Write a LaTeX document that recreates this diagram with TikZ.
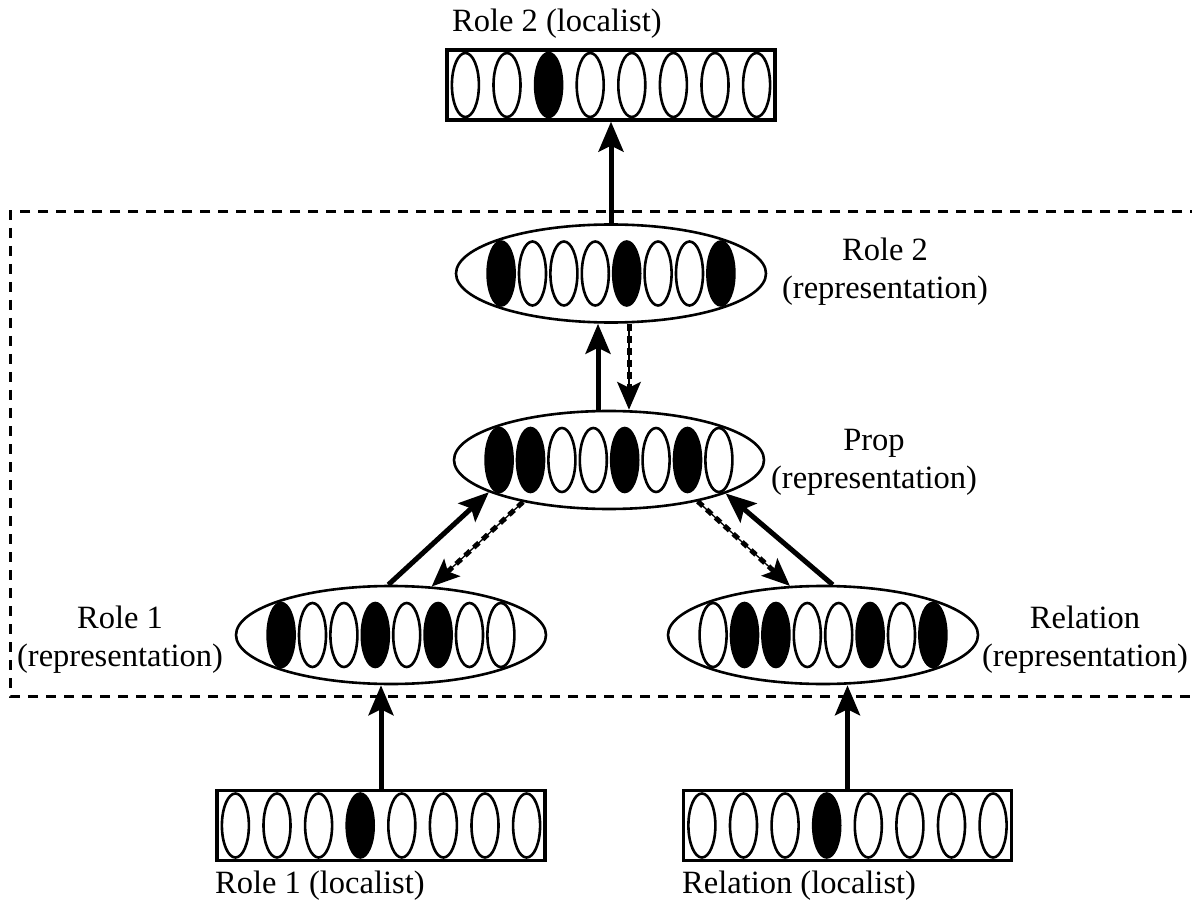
\documentclass[tikz,border=0pt]{standalone}
\usepackage{fontspec}
\setmainfont{Liberation Serif}
\usetikzlibrary{shapes.geometric,arrows.meta,calc}

\begin{document}
\begin{tikzpicture}[x=1pt,y=-1pt,
  lbl/.style={font=\fontsize{32.5}{38}\selectfont, inner sep=0pt},
  grp/.style={lbl, align=center},
  unit/.style={ellipse, draw, line width=2.6pt, minimum width=27pt, minimum height=64pt, inner sep=0pt},
  repr/.style={ellipse, draw, line width=2.6pt, minimum width=310pt, minimum height=98pt, inner sep=0pt},
  localbox/.style={rectangle, draw, line width=3.3pt, minimum width=328pt, minimum height=70pt, inner sep=0pt},
  feed/.style={line width=5pt, -{Stealth[length=30pt,width=25pt,inset=6pt]}},
  back/.style={line width=1.3pt, -{Stealth[length=28pt,width=24pt,inset=6pt]},
    postaction={draw, line width=5pt, dash pattern=on 7pt off 5pt, -, shorten >=14pt}},
  frame/.style={line width=3pt, dash pattern=on 10pt off 8pt}]

\useasboundingbox (0,0) rectangle (1192,901);

% module boundary
\draw[frame] (1200,212) -- (10,212) -- (10,696) -- (1200,696);

% layers
\node[localbox] (r2loc) at (611,85) {};
\node[repr] (r2rep) at (611,273.5) {};
\node[repr] (prop) at (609,460) {};
\node[repr] (r1rep) at (391,635) {};
\node[repr] (relrep) at (823,635) {};
\node[localbox] (r1loc) at (381,825.5) {};
\node[localbox] (relloc) at (847.5,825.5) {};

% localist units
\foreach \c [count=\i] in {white,white,black,white,white,white,white,white}
  \node[unit, fill=\c] (r2loc-\i) at ([xshift={(\i-4.5)*41.6}]r2loc.center) {};
\foreach \c [count=\i] in {white,white,white,black,white,white,white,white}
  \node[unit, fill=\c] (r1loc-\i) at ([xshift={(\i-4.5)*41.6}]r1loc.center) {};
\foreach \c [count=\i] in {white,white,white,black,white,white,white,white}
  \node[unit, fill=\c] (relloc-\i) at ([xshift={(\i-4.5)*41.6}]relloc.center) {};

% distributed units
\foreach \c [count=\i] in {black,white,white,white,black,white,white,black}
  \node[unit, fill=\c] (r2rep-\i) at ([xshift={(\i-4.5)*31.4}]r2rep.center) {};
\foreach \c [count=\i] in {black,black,white,white,black,white,black,white}
  \node[unit, fill=\c] (prop-\i) at ([xshift={(\i-4.5)*31.4}]prop.center) {};
\foreach \c [count=\i] in {black,white,white,black,white,black,white,white}
  \node[unit, fill=\c] (r1rep-\i) at ([xshift={(\i-4.5)*31.4}]r1rep.center) {};
\foreach \c [count=\i] in {white,black,black,white,white,black,white,black}
  \node[unit, fill=\c] (relrep-\i) at ([xshift={(\i-4.5)*31.4}]relrep.center) {};

% labels
\node[lbl, anchor=base west] (r2loctxt) at (452,32) {Role 2 (localist)};
\node[grp] (r2reptxt) at (885,272) {Role 2\\(representation)};
\node[grp] (proptxt) at (874,462) {Prop\\(representation)};
\node[grp] (r1reptxt) at (120,640) {Role 1\\(representation)};
\node[grp] (relreptxt) at (1085,640) {Relation\\(representation)};
\node[lbl, anchor=base west] (r1loctxt) at (215,893) {Role 1 (localist)};
\node[lbl, anchor=base west] (relloctxt) at (682,893) {Relation (localist)};

% connections
\coordinate (upx) at ([xshift=-11pt]prop.north);
\coordinate (downx) at ([xshift=20pt]prop.north);
\draw[feed] (r2rep.north) -- (r2loc.south);
\draw[feed] (upx) -- (upx |- r2rep.south);
\draw[back] (downx |- r2rep.south) -- (downx);
\draw[feed] (r1rep.93) -- (prop.195);
\draw[back] (prop.206) -- (r1rep.50);
\draw[back] (prop.335) -- (relrep.124);
\draw[feed] (relrep.79) -- (prop.344);
\draw[feed] (r1loc.north) -- (r1loc.north |- r1rep.south);
\draw[feed] (relloc.north) -- (relloc.north |- relrep.south);
\end{tikzpicture}
\end{document}
